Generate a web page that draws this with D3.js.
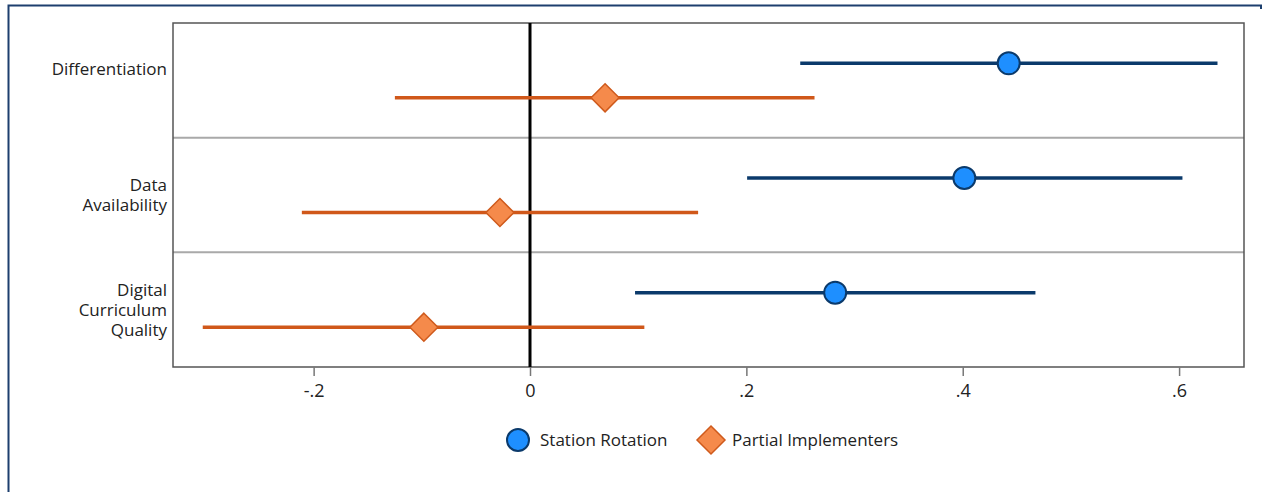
<!DOCTYPE html>
<html>
<head>
<meta charset="utf-8">
<script src="https://cdn.jsdelivr.net/npm/d3@7"></script>
<style>
  html, body { margin: 0; padding: 0; background: #fff; }
  svg { display: block; font-family: "Open Sans", "Noto Sans", sans-serif; }
</style>
</head>
<body>
<svg id="chart" width="1265" height="492"></svg>
<script>
// Outcome rows (top to bottom), each split into multiple label lines
const categories = ["Differentiation", "Data Availability", "Digital Curriculum Quality"];
const categoryLines = [["Differentiation"], ["Data", "Availability"], ["Digital", "Curriculum", "Quality"]];

// Station Rotation estimates with 95% interval bounds
const stationEst = [0.4425, 0.4015, 0.2821];
const stationLow = [0.2498, 0.2007, 0.0971];
const stationHigh = [0.6355, 0.6031, 0.4672];

// Partial Implementers estimates with 95% interval bounds
const partialEst = [0.0694, -0.0278, -0.0981];
const partialLow = [-0.1249, -0.2109, -0.3025];
const partialHigh = [0.263, 0.1554, 0.1057];

const xTicks = [-0.2, 0, 0.2, 0.4, 0.6];
const xTickLabels = ["-.2", "0", ".2", ".4", ".6"];

const series = [
  { name: "Station Rotation", est: stationEst, low: stationLow, high: stationHigh,
    line: "#0b3a6b", fill: "#1e8fff", stroke: "#0b3a6b", shape: "circle", offset: -17 },
  { name: "Partial Implementers", est: partialEst, low: partialLow, high: partialHigh,
    line: "#d0581a", fill: "#f58a4b", stroke: "#cf5a1c", shape: "diamond", offset: 17.5 }
];

const svg = d3.select("#chart");
const plot = { left: 173, top: 23, right: 1244, bottom: 367 };

const x = d3.scaleLinear().domain([-0.33, 0.66]).range([plot.left, plot.right]);
const y = d3.scaleBand().domain(categories).range([plot.top, plot.bottom]).padding(0);

// Outer frame of the figure
svg.append("path")
  .attr("d", "M8.5,492 V5.5 H1261 V9")
  .attr("fill", "none")
  .attr("stroke", "#1d3f6e")
  .attr("stroke-width", 2);

// Row separators
svg.append("g").selectAll("line")
  .data(categories.slice(1))
  .join("line")
  .attr("x1", plot.left).attr("x2", plot.right)
  .attr("y1", d => y(d)).attr("y2", d => y(d))
  .attr("stroke", "#a9a9a9").attr("stroke-width", 2);

// Plot box
svg.append("rect")
  .attr("x", plot.left).attr("y", plot.top)
  .attr("width", plot.right - plot.left).attr("height", plot.bottom - plot.top)
  .attr("fill", "none").attr("stroke", "#555").attr("stroke-width", 1.5);

// Bottom axis
const xAxis = d3.axisBottom(x)
  .tickValues(xTicks)
  .tickFormat((d, i) => xTickLabels[i])
  .tickSize(9)
  .tickPadding(8);
const axisG = svg.append("g")
  .attr("transform", `translate(0,${plot.bottom})`)
  .call(xAxis)
  .attr("font-family", null)
  .attr("font-size", null);
axisG.select(".domain").remove();
axisG.selectAll(".tick line").attr("stroke", "#777").attr("stroke-width", 1.5);
axisG.selectAll(".tick text")
  .style("font-size", "18px").attr("fill", "#222");

// Reference line at zero
svg.append("line")
  .attr("x1", x(0)).attr("x2", x(0))
  .attr("y1", plot.top).attr("y2", plot.bottom)
  .attr("stroke", "#000").attr("stroke-width", 3);

// Row labels
const labelG = svg.append("g");
categories.forEach((c, i) => {
  const lines = categoryLines[i];
  const lh = 20;
  const cy = i === 0 ? y(c) + y.bandwidth() / 2 - 11 : y(c) + y.bandwidth() / 2;
  const t = labelG.append("text")
    .attr("text-anchor", "end")
    .style("font-size", "17px")
    .attr("fill", "#222");
  lines.forEach((ln, k) => {
    t.append("tspan")
      .attr("x", plot.left - 6)
      .attr("y", cy + (k - (lines.length - 1) / 2) * lh)
      .attr("dy", "0.35em")
      .text(ln);
  });
});

const diamond = (cx, cy, r) => `M${cx},${cy - r} L${cx + r},${cy} L${cx},${cy + r} L${cx - r},${cy} Z`;

// Interval lines and point markers
series.forEach(s => {
  const g = svg.append("g");
  g.selectAll("line")
    .data(categories)
    .join("line")
    .attr("x1", (d, i) => x(s.low[i]))
    .attr("x2", (d, i) => x(s.high[i]))
    .attr("y1", d => y(d) + y.bandwidth() / 2 + s.offset)
    .attr("y2", d => y(d) + y.bandwidth() / 2 + s.offset)
    .attr("stroke", s.line).attr("stroke-width", 3.5);
  if (s.shape === "circle") {
    g.selectAll("circle")
      .data(categories)
      .join("circle")
      .attr("cx", (d, i) => x(s.est[i]))
      .attr("cy", d => y(d) + y.bandwidth() / 2 + s.offset)
      .attr("r", 11)
      .attr("fill", s.fill).attr("stroke", s.stroke).attr("stroke-width", 2);
  } else {
    g.selectAll("path")
      .data(categories)
      .join("path")
      .attr("d", (d, i) => diamond(x(s.est[i]), y(d) + y.bandwidth() / 2 + s.offset, 14))
      .attr("fill", s.fill).attr("stroke", s.stroke).attr("stroke-width", 1.5);
  }
});

// Legend
const legendY = 440;
const legendItems = [
  { s: series[0], mx: 518, tx: 540 },
  { s: series[1], mx: 711, tx: 732 }
];
const legendG = svg.append("g");
legendItems.forEach(it => {
  if (it.s.shape === "circle") {
    legendG.append("circle")
      .attr("cx", it.mx).attr("cy", legendY).attr("r", 11)
      .attr("fill", it.s.fill).attr("stroke", it.s.stroke).attr("stroke-width", 2);
  } else {
    legendG.append("path")
      .attr("d", diamond(it.mx, legendY, 14))
      .attr("fill", it.s.fill).attr("stroke", it.s.stroke).attr("stroke-width", 1.5);
  }
  legendG.append("text")
    .attr("x", it.tx).attr("y", legendY).attr("dy", "0.35em")
    .style("font-size", "17px").attr("fill", "#222")
    .text(it.s.name);
});
</script>
</body>
</html>
